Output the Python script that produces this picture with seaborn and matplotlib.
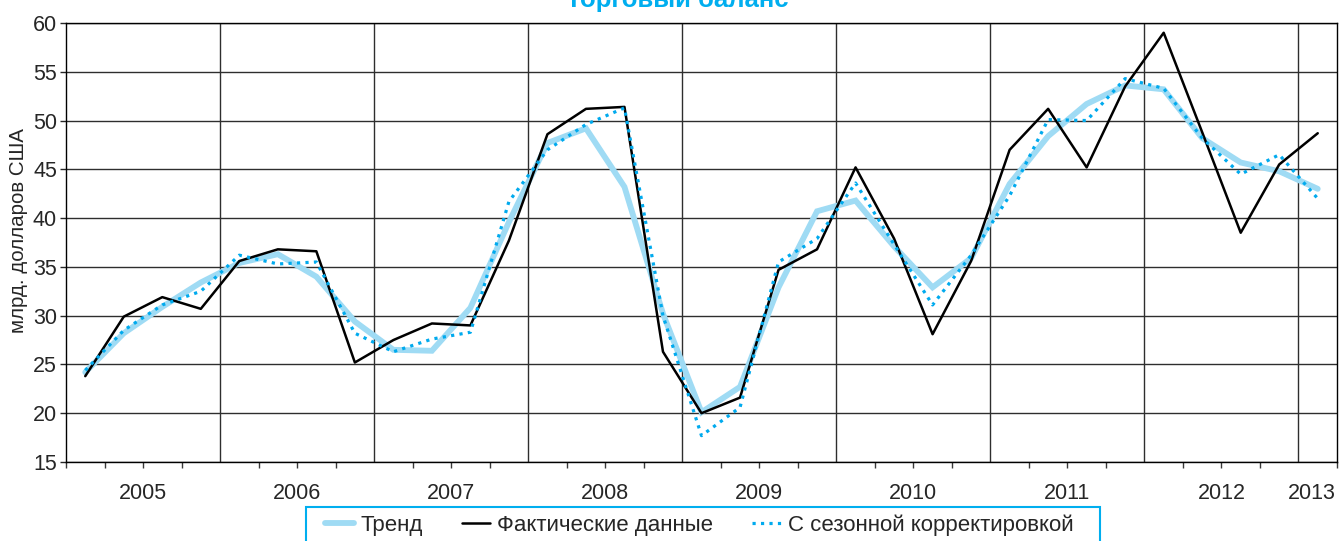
import matplotlib
matplotlib.use("Agg")
import matplotlib.pyplot as plt
import matplotlib.transforms as mtransforms
from matplotlib.patches import Rectangle
from matplotlib import font_manager
import seaborn as sns
import pandas as pd

# ----- данные: торговый баланс, поквартально 2005Q1 - 2013Q1 -----
trend = [24.2, 28.2, 30.9, 33.4,
         35.4, 36.3, 34.0, 29.4,
         26.5, 26.4, 30.8, 39.6,
         47.7, 49.2, 43.2, 30.2,
         20.1, 22.7, 32.9, 40.7,
         41.8, 37.1, 32.9, 35.9,
         43.5, 48.4, 51.7, 53.6,
         53.2, 48.2, 45.7, 44.8,
         43.0]
actual = [23.8, 29.9, 31.9, 30.7,
          35.6, 36.8, 36.6, 25.2,
          27.5, 29.2, 29.0, 37.7,
          48.6, 51.2, 51.4, 26.3,
          20.0, 21.6, 34.7, 36.8,
          45.2, 37.9, 28.1, 35.6,
          47.0, 51.2, 45.2, 53.5,
          59.0, 48.8, 38.5, 45.5,
          48.7]
seas_adj = [24.4, 28.5, 31.1, 32.5,
            36.2, 35.3, 35.5, 28.2,
            26.3, 27.6, 28.3, 41.7,
            47.0, 49.6, 51.3, 30.0,
            17.7, 20.6, 35.5, 37.9,
            43.6, 37.3, 31.1, 36.2,
            42.3, 50.1, 50.0, 54.3,
            53.3, 48.2, 44.5, 46.5,
            42.0]
years = ['2005', '2006', '2007', '2008', '2009', '2010', '2011', '2012', '2013']
series_names = ['Тренд', 'Фактические данные', 'С сезонной корректировкой']

df = pd.DataFrame({'q': range(len(actual)),
                   series_names[0]: trend,
                   series_names[1]: actual,
                   series_names[2]: seas_adj})

sns.set_style("white")
avail = {f.name for f in font_manager.fontManager.ttflist}
fam = ['Liberation Sans Narrow'] if 'Liberation Sans Narrow' in avail else []
plt.rcParams['font.family'] = fam + ['Liberation Sans', 'DejaVu Sans']

FS = 15.5
W, H = 1342, 541

fig = plt.figure(figsize=(W / 100, H / 100), dpi=100)
ax = fig.add_axes([66/W, 1 - 462/H, 1271/W, 439/H])

sns.lineplot(data=df, x='q', y=series_names[0], ax=ax, color='#9FDBF4', lw=4.2,
             label=series_names[0], solid_joinstyle='miter')
sns.lineplot(data=df, x='q', y=series_names[1], ax=ax, color='black', lw=1.8,
             label=series_names[1])
sns.lineplot(data=df, x='q', y=series_names[2], ax=ax, color='#00AAEE', lw=2.3,
             linestyle=':', label=series_names[2])

n = len(actual)
ax.set_xlim(-0.5, n - 0.5)
ax.set_ylim(15, 60)
ax.set_yticks(range(15, 61, 5))

# границы лет - основная сетка, кварталы - мелкие деления
ax.set_xticks([4 * k - 0.5 for k in range(1, len(years))])
ax.set_xticklabels([])
ax.set_xticks([k - 0.5 for k in range(n + 1)], minor=True)
ax.grid(True, axis='both', which='major', color='#2e2e2e', lw=1.0)
ax.tick_params(axis='x', which='major', length=6, width=1, color='#3a3a3a', direction='out')
ax.tick_params(axis='x', which='minor', length=4, width=1, color='#3a3a3a', direction='out', bottom=True)
ax.tick_params(axis='y', length=4, width=1, direction='out', labelsize=FS, pad=2.5, left=True)
for s in ax.spines.values():
    s.set_color('black')
    s.set_linewidth(1.0)

trans = mtransforms.blended_transform_factory(ax.transData, ax.transAxes)
for i, y in enumerate(years):
    xpos = 4 * i + 1.5 if i < len(years) - 1 else n - 1 - 0.15
    ax.text(xpos, -0.072, y, transform=trans, ha='center', va='center', fontsize=FS)

ax.set_xlabel('')
ax.set_ylabel('млрд. долларов США', fontsize=14.8)
ax.yaxis.set_label_coords(-0.030, 0.528)

leg = ax.legend(loc='upper center', bbox_to_anchor=(699 / W, 1 - 507/H), bbox_transform=fig.transFigure,
                ncol=3, frameon=False, fontsize=16, handlelength=1.3,
                handletextpad=0.3, columnspacing=1.75, borderpad=0.35, borderaxespad=0)

# рамка легенды: шире по горизонтали, низ уходит за край картинки
fig.canvas.draw()
bb = leg.get_window_extent()
x0, x1 = bb.x0 - 11, bb.x1 + 19
fig.patches.append(Rectangle((x0 / W, -0.1), (x1 - x0) / W, bb.y1 / H + 0.1,
                             transform=fig.transFigure, fill=False,
                             edgecolor='#00AEEF', lw=1.5, zorder=5))

fig.text(0.505, 1 - 7/H, 'Торговый баланс', ha='center', va='baseline',
         fontsize=18.5, fontweight='bold', color='#00AEEF')

fig.savefig('out.png', dpi=100)
